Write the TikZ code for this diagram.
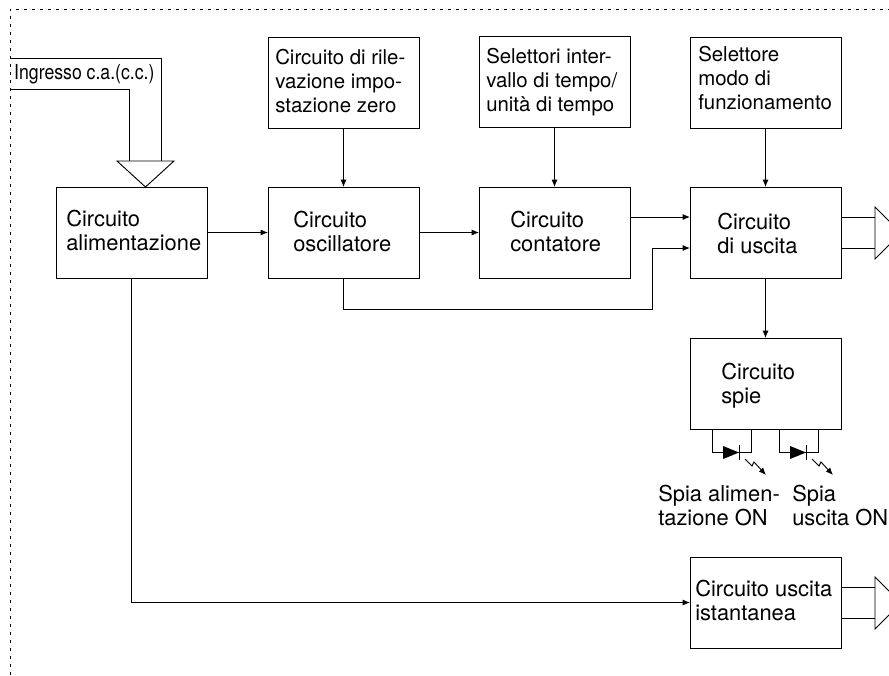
\documentclass[tikz,border=0pt]{standalone}
\usepackage{fontspec}
\setmainfont{TeX Gyre Heros}
\usetikzlibrary{calc,arrows.meta}
\tikzset{
	blockbox/.style={draw, line width=0.7pt, minimum width=113.25pt, minimum height=68.25pt, outer sep=0pt, inner sep=0pt},
	blocktext/.style={anchor=north west, align=left, inner sep=0pt, font=\fontsize{16.4}{18.2}\selectfont},
	toptext/.style={blocktext, font=\fontsize{15.3}{18.3}\selectfont},
	signal/.style={line width=0.7pt, -{Latex[length=5.5pt,width=4.5pt]}},
	wire/.style={line width=0.7pt},
	borderline/.style={line width=0.75pt, dash pattern=on 2pt off 4pt},
	spia/.pic={
			\draw[wire] (0,0) -- (0,23) -- (39,23) -- (39,0);
			\fill (11,17) -- (27,23.5) -- (11,30) -- cycle;
			\draw[wire] (27,16) -- (27,31);
			\draw[signal] (33,30) -- (40,37) -- (42,33) -- (54,46);
		}
}

\begin{document}
\begin{tikzpicture}[x=0.75pt,y=-0.75pt]
	\clip (0,0) rectangle (889,675);
	\draw[borderline] (10,675) -- (10,9) -- (889,9);

	% blocks
	\node[blockbox] (alim) at (131.5,232.5) {};
	\node[blockbox] (osc) at (343.5,232.5) {};
	\node[blockbox] (cont) at (554.5,232.5) {};
	\node[blockbox] (usc) at (765.5,232.5) {};
	\node[blockbox] (zero) at (343.5,82.5) {};
	\node[blockbox] (sel) at (554.5,81.5) {};
	\node[blockbox] (modo) at (765.5,82.5) {};
	\node[blockbox] (spie) at (765.5,383.5) {};
	\node[blockbox] (ist) at (765.5,602.5) {};

	% texts
	\node[blocktext] (alimtext) at (66,210) {Circuito\\alimentazione};
	\node[blocktext] (osctext) at (293,210.5) {Circuito\\oscillatore};
	\node[blocktext] (conttext) at (510,210.5) {Circuito\\contatore};
	\node[blocktext] (usctext) at (717,212.5) {Circuito\\di uscita};
	\node[toptext] (zerotext) at (275,48.5) {Circuito di rile-\\vazione impo-\\stazione zero};
	\node[toptext] (seltext) at (486,47.5) {Selettori inter-\\vallo di tempo/\\unità di tempo};
	\node[toptext] (modotext) at (698,45.5) {Selettore\\modo di\\funzionamento};
	\node[blocktext] (spietext) at (721,362.5) {Circuito\\spie};
	\node[blocktext] (isttext) at (695,579.5) {Circuito uscita\\istantanea};
	\node[blocktext] (spiaa) at (658,485) {Spia alimen-\\tazione ON};
	\node[blocktext] (spiab) at (792,485) {Spia\\uscita ON};
	\node[blocktext, font=\fontsize{15.5}{18}\selectfont, xscale=0.855, anchor=west] (ingresso) at (14,74.5) {Ingresso c.a.(c.c.)};

	% signals
	\draw[signal] (zero) -- (osc);
	\draw[signal] (sel) -- (cont);
	\draw[signal] (modo) -- (usc);
	\draw[signal] (alim) -- (osc);
	\draw[signal] (osc) -- (cont);
	\draw[signal] ($(cont.east)+(0,-15.5)$) -- ($(usc.west)+(0,-15.5)$);
	\draw[signal] (osc.south) -- ++(0,31) -| (652,248) -- ($(usc.west)+(0,15.5)$);
	\draw[signal] (usc) -- (spie);
	\draw[signal] (alim.south) |- (ist.west);

	% ingresso
	\coordinate (inA) at (10,58);
	\coordinate (inB) at (10,89);
	\draw[wire] (inA) -| (161,161);
	\draw[wire] (inB) -| (129,161);
	\draw[wire] (117,161) -- (174,161) -- (145.5,187) -- cycle;

	% uscite
	\draw[wire] ($(usc.east)+(0,-15.5)$) -- ++(34,0);
	\draw[wire] ($(usc.east)+(0,15.5)$) -- ++(34,0);
	\draw[wire] (875,207) -- (901,233) -- (875,259) -- cycle;
	\draw[wire] ($(ist.east)+(0,-15.5)$) -- ++(34,0);
	\draw[wire] ($(ist.east)+(0,15.5)$) -- ++(34,0);
	\draw[wire] (875,577) -- (901,603) -- (875,629) -- cycle;

	% spie
	\path (712,429) pic {spia};
	\path (779,429) pic {spia};
\end{tikzpicture}
\end{document}
